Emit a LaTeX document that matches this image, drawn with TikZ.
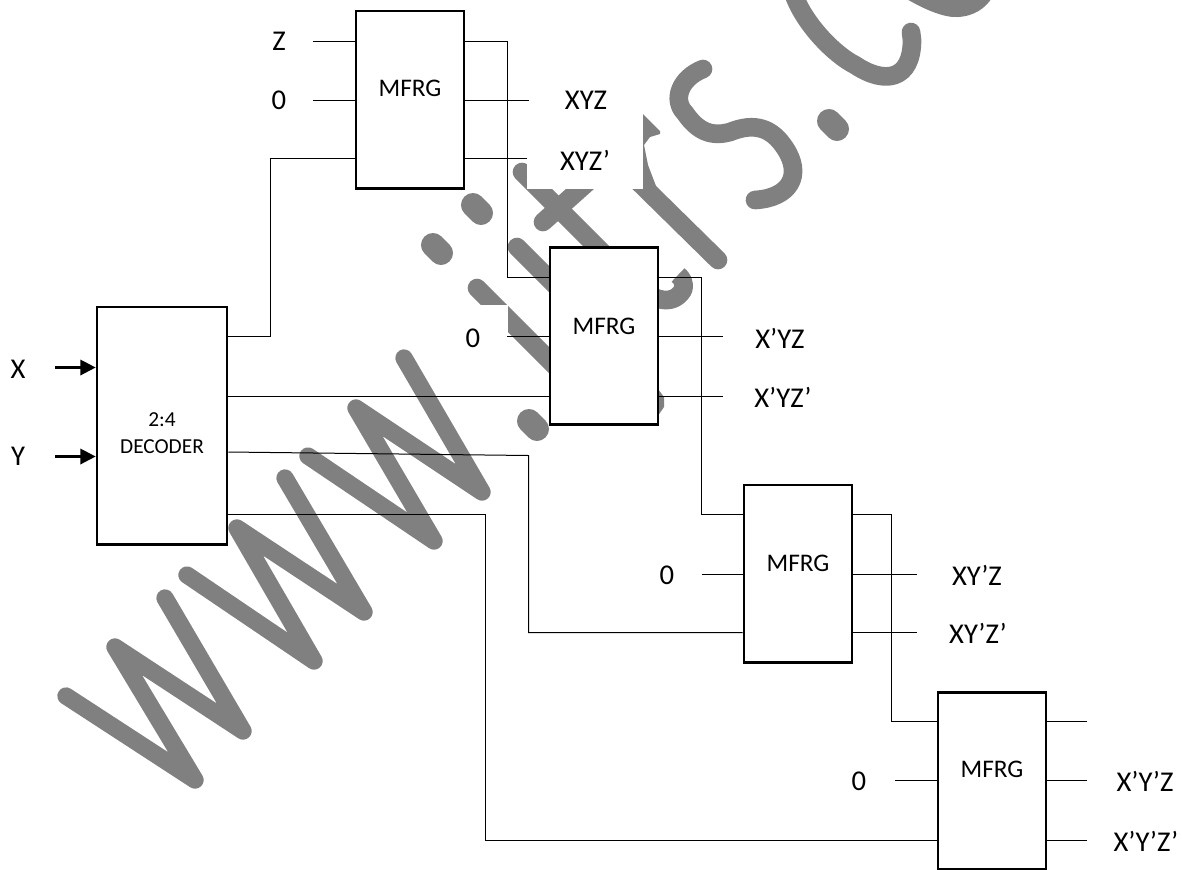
\documentclass[tikz,border=0pt]{standalone}
\usepackage{fontspec}
\setmainfont{Carlito}
\usetikzlibrary{arrows.meta}
\definecolor{wm}{RGB}{128,128,128}
\tikzset{
  box/.style={draw=black,line width=2pt,fill=white,inner sep=0pt,rectangle},
  mfrg/.style={box,minimum width=81pt,minimum height=133pt},
  wire/.style={draw=black,line width=0.75pt},
  lab/.style={inner sep=0pt,font=\fontsize{21.5}{25}\selectfont},
  inlab/.style={inner sep=0pt,font=\fontsize{19}{23}\selectfont},
  declab/.style={inner sep=0pt,font=\fontsize{16}{19}\selectfont},
  ink/.style={draw=wm,line cap=round,line join=round},
  wstroke/.style={ink,line width=13pt},
  tstroke/.style={ink,line width=14pt},
  dotstroke/.style={ink,line width=18pt},
  patch/.style={fill=white,draw=none},
  sig/.style={draw=black,line width=1.8pt,-{Triangle[length=11.5pt,width=11.5pt]}}
}
\begin{document}
\begin{tikzpicture}[x=0.75pt,y=-0.75pt]
\useasboundingbox (0,0) rectangle (1182,869);
\clip (0,0) rectangle (1182,869);
% watermark
\draw[wstroke] (66,696) -- (195,780) -- (115,647) -- (243,731) -- (165,598);
\draw[wstroke] (187,575) -- (314,661) -- (237,528) -- (364,612) -- (285,478);
\draw[wstroke] (308,456) -- (434,541) -- (356,408) -- (482,492) -- (404,358);
\draw[dotstroke] (473,205) -- (481,213);
\draw[dotstroke] (433,245) -- (441,253);
\draw[dotstroke] (529,421) -- (537,429);
\draw[tstroke] (517,247) -- (570,300);
\draw[tstroke] (477,288) -- (570,381);
\draw[tstroke] (522,172) -- (630,280);
\draw[tstroke] (543,222) -- (590,180);
\draw[tstroke,line cap=butt] (630,280) .. controls (650,300) and (672,308) .. (683,290) .. controls (685,283) and (682,278) .. (678,275);
\draw[tstroke] (600,144) -- (718,260);
\fill[wm] (640,111) -- (660,131) -- (660,134) -- (650,137) -- (644,145) -- (648,165) -- (656,186) -- (640,190) -- cycle;
\fill[wm] (655,385) -- (664,397) -- (664,407) -- (655,420) -- cycle;
\draw[tstroke] (703,69) .. controls (680,78) and (672,100) .. (685,113) .. controls (698,132) and (712,137) .. (730,132) .. controls (755,122) and (772,128) .. (785,148) .. controls (803,175) and (790,198) .. (755,200);
\draw[dotstroke] (829,121) -- (837,129);
\draw[tstroke] (794,-5) .. controls (805,25) and (835,55) .. (855,65) .. controls (885,85) and (912,80) .. (912,40) -- (911,32);
\fill[wm] (905,-2) .. controls (925,10) and (945,18) .. (958,17) .. controls (975,16) and (985,8) .. (992,-2) -- cycle;
% masks
\path[patch] (527,100) rectangle (643,189);
\path[patch] (440,305) rectangle (508,360);
% boxes
\node[mfrg] (m1) at (410,99.5) {};
\node[mfrg] (m2) at (604,336) {};
\node[mfrg] (m3) at (798,573.5) {};
\node[mfrg] (m4) at (992,781) {};
\node[box,minimum width=97.5pt,minimum height=178pt] (dec) at (162,425.5) {};
% labels
\node[inlab] (t1) at (410,88) {MFRG};
\node[inlab] (t2) at (604,326) {MFRG};
\node[inlab] (t3) at (798,563) {MFRG};
\node[inlab] (t4) at (992,769) {MFRG};
\node[declab] (dt1) at (162,420) {2:4};
\node[declab] (dt2) at (162,447) {DECODER};
\node[lab] (lx) at (18,369) {X};
\node[lab] (ly) at (18,456) {Y};
\node[lab] (lz) at (279,41) {Z};
\node[lab] (l01) at (279,100) {0};
\node[lab] (l02) at (473,338) {0};
\node[lab] (l03) at (667,575) {0};
\node[lab] (l04) at (859,781) {0};
\node[lab] (o1) at (586,100) {XYZ};
\node[lab] (o2) at (585,160) {XYZ’};
\node[lab] (o3) at (780,338) {X’YZ};
\node[lab] (o4) at (783,397) {X’YZ’};
\node[lab] (o5) at (977,575) {XY’Z};
\node[lab] (o6) at (978,633) {XY’Z’};
\node[lab] (o7) at (1145,781) {X’Y’Z};
\node[lab] (o8) at (1146,841) {X’Y’Z’};
% free ends and port rows
\coordinate (ax) at (55,367.5);
\coordinate (ay) at (55,456.5);
\coordinate (iz) at (313,41.5);
\coordinate (i01) at (313,100.5);
\coordinate (i02) at (507,336.5);
\coordinate (i03) at (702,574.5);
\coordinate (i04) at (895,780.5);
\coordinate (e1) at (529,100.5);
\coordinate (e2) at (527,158.5);
\coordinate (e3) at (723,336.5);
\coordinate (e4) at (723,396.5);
\coordinate (e5) at (917,574.5);
\coordinate (e6) at (917,632.5);
\coordinate (e7) at (1087,780.5);
\coordinate (e8) at (1087,840.5);
\coordinate (e9) at (1087,721.5);
\coordinate (r1) at (0,41.5);
\coordinate (r2) at (0,277.5);
\coordinate (r3) at (0,514.5);
\coordinate (r4) at (0,721.5);
\coordinate (c1) at (270.5,336.5);
\coordinate (c1b) at (270.5,158.5);
\coordinate (c2) at (0,396.5);
\coordinate (c3a) at (227,452);
\coordinate (c3) at (528.5,455.5);
\coordinate (c3b) at (528.5,632.5);
\coordinate (c4) at (485.5,514.5);
\coordinate (c4b) at (485.5,840.5);
% inputs
\draw[sig] (ax) -- (ax -| dec.west);
\draw[sig] (ay) -- (ay -| dec.west);
\draw[wire] (iz) -- (iz -| m1.west);
\draw[wire] (i01) -- (i01 -| m1.west);
\draw[wire] (i02) -- (i02 -| m2.west);
\draw[wire] (i03) -- (i03 -| m3.west);
\draw[wire] (i04) -- (i04 -| m4.west);
% outputs
\draw[wire] (e1 -| m1.east) -- (e1);
\draw[wire] (e2 -| m1.east) -- (e2);
\draw[wire] (e3 -| m2.east) -- (e3);
\draw[wire] (e4 -| m2.east) -- (e4);
\draw[wire] (e5 -| m3.east) -- (e5);
\draw[wire] (e6 -| m3.east) -- (e6);
\draw[wire] (e7 -| m4.east) -- (e7);
\draw[wire] (e8 -| m4.east) -- (e8);
\draw[wire] (e9 -| m4.east) -- (e9);
% chain
\coordinate (v1) at (507.5,0);
\coordinate (v2) at (701.5,0);
\coordinate (v3) at (891.5,0);
\draw[wire] (r1 -| m1.east) -- (r1 -| v1) -- (r2 -| v1) -- (r2 -| m2.west);
\draw[wire] (r2 -| m2.east) -- (r2 -| v2) -- (r3 -| v2) -- (r3 -| m3.west);
\draw[wire] (r3 -| m3.east) -- (r3 -| v3) -- (r4 -| v3) -- (r4 -| m4.west);
% decoder outputs
\draw[wire] (c1 -| dec.east) -- (c1) -- (c1b) -- (c1b -| m1.west);
\draw[wire] (c2 -| dec.east) -- (c2 -| m2.west);
\draw[wire] (c3a -| dec.east) -- (c3) -- (c3b) -- (c3b -| m3.west);
\draw[wire] (c4 -| dec.east) -- (c4) -- (c4b) -- (c4b -| m4.west);
\end{tikzpicture}
\end{document}
